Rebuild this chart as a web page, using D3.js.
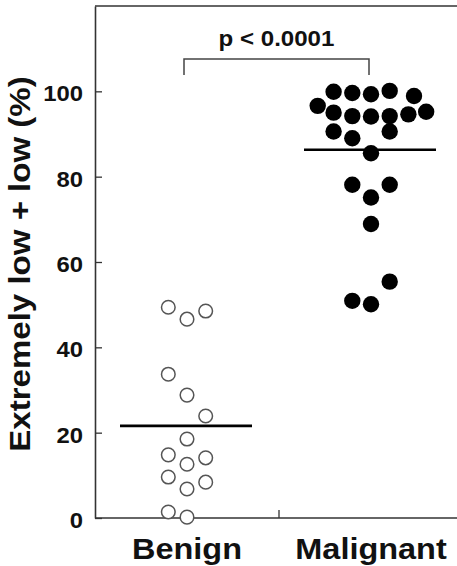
<!DOCTYPE html>
<html>
<head>
<meta charset="utf-8">
<script src="https://cdn.jsdelivr.net/npm/d3@7/dist/d3.min.js"></script>
<style>
  html, body { margin: 0; padding: 0; background: #fff; }
  svg { display: block; }
  text { font-family: "Liberation Sans", Arial, Helvetica, sans-serif; font-weight: bold; fill: #111; }
</style>
</head>
<body>
<svg id="chart" width="457" height="566"></svg>
<script>
// ---- data ----
const categories = ["Benign", "Malignant"];
const benignValues = [49.4, 46.6, 48.5, 33.7, 28.8, 23.9, 18.5, 14.8, 14.1, 12.6, 9.6, 8.4, 6.8, 1.4, 0.2];
const benignSlots  = [-1, 0, 1, -1, 0, 1, 0, -1, 1, 0, -1, 1, 0, -1, 0];
const malignantValues = [99.9, 99.6, 99.3, 100.1, 98.9,
                         96.6, 95.0, 94.2, 94.1, 94.2, 94.6, 95.2,
                         90.6, 89.0, 90.6,
                         85.5, 78.1, 78.1, 75.1, 68.9, 55.4, 50.9, 50.1];
const malignantSlots  = [-2, -1, 0, 1, 2.3,
                         -2.85, -2, -1, 0, 1, 2, 2.95,
                         -2, -1, 1,
                         0, -1, 1, 0, 0, 1, -1, 0];
const groupMeans = [21.6, 86.3];
const yTicks = [0, 20, 40, 60, 80, 100];
const pLabel = "p < 0.0001";
const yTitle = "Extremely low + low (%)";

(function () {
// ---- layout ----
const svg = d3.select("#chart");
const mLeft = 95, mBottom = 518, mTop = 6, mRight = 463;
const y = d3.scaleLinear().domain([0, 120]).range([mBottom, mTop]);
const x = d3.scalePoint().domain(categories).range([mLeft, mRight]).padding(0.5);
const slot = d3.scaleLinear().domain([-1, 1]).range([-18.7, 18.7]);
const axisColor = "#333";

// frame: top line
svg.append("line").attr("x1", mLeft).attr("x2", 470).attr("y1", y(120)).attr("y2", y(120))
  .attr("stroke", axisColor).attr("stroke-width", 1.6);

// y axis
const yAxis = d3.axisLeft(y).tickValues(yTicks).tickSizeInner(-7).tickSizeOuter(0).tickPadding(12);
const gy = svg.append("g").attr("transform", `translate(${mLeft},0)`).call(yAxis);
gy.select(".domain").attr("stroke", axisColor).attr("stroke-width", 1.6);
gy.selectAll(".tick line").attr("stroke", axisColor).attr("stroke-width", 1.3);
gy.selectAll(".tick text")
  .style("font-size", "22.5px").style("font-family", "'Liberation Sans', Arial, sans-serif")
  .style("font-weight", "bold").attr("fill", "#111")
  .attr("dy", "0.42em")
  .attr("transform", "scale(1.06,1)")
  .attr("x", -12 / 1.06);

// x axis
const xAxis = d3.axisBottom(x).tickSize(0).tickFormat(() => "");
const gx = svg.append("g").attr("transform", `translate(0,${mBottom})`).call(xAxis);
gx.select(".domain").attr("d", `M${mLeft},0H470`).attr("stroke", axisColor).attr("stroke-width", 1.6);
gx.selectAll(".tick").remove();
const midX = (x(categories[0]) + x(categories[1])) / 2;
gx.append("line").attr("x1", midX).attr("x2", midX).attr("y1", 0).attr("y2", -8)
  .attr("stroke", axisColor).attr("stroke-width", 1.3);

// category labels
svg.selectAll(".cat").data(categories).enter().append("text")
  .attr("class", "cat")
  .attr("transform", d => `translate(${x(d)},559) scale(1.1,1)`)
  .attr("text-anchor", "middle")
  .style("font-size", "29.5px")
  .text(d => d);

// y title
svg.append("text")
  .attr("transform", `translate(30,264) rotate(-90) scale(1.12,1)`)
  .attr("text-anchor", "middle")
  .style("font-size", "29.5px")
  .text(yTitle);

// benign points (open)
svg.selectAll(".benign").data(benignValues).enter().append("circle")
  .attr("class", "benign")
  .attr("cx", (d, i) => x(categories[0]) + slot(benignSlots[i]))
  .attr("cy", d => y(d))
  .attr("r", 6.8)
  .attr("fill", "#fff").attr("stroke", "#555").attr("stroke-width", 1.5);

// malignant points (filled)
svg.selectAll(".malig").data(malignantValues).enter().append("circle")
  .attr("class", "malig")
  .attr("cx", (d, i) => x(categories[1]) + slot(malignantSlots[i]))
  .attr("cy", d => y(d))
  .attr("r", 8.2)
  .attr("fill", "#000");

// mean lines
svg.selectAll(".mean").data(groupMeans).enter().append("line")
  .attr("class", "mean")
  .attr("x1", (d, i) => x(categories[i]) - 67)
  .attr("x2", (d, i) => x(categories[i]) + 65)
  .attr("y1", d => y(d)).attr("y2", d => y(d))
  .attr("stroke", "#000").attr("stroke-width", 2.6);

// significance bracket
const bTop = y(107.6), bEnd = y(103.8);
const bx1 = x(categories[0]) - 3, bx2 = x(categories[1]) - 2;
svg.append("path")
  .attr("d", `M${bx1},${bEnd}V${bTop}H${bx2}V${bEnd}`)
  .attr("fill", "none").attr("stroke", "#444").attr("stroke-width", 1.5);
svg.append("text")
  .attr("transform", `translate(${(bx1 + bx2) / 2},46) scale(1.07,1)`)
  .attr("text-anchor", "middle")
  .style("font-size", "22.5px")
  .text(pLabel);
})();
</script>
</body>
</html>
